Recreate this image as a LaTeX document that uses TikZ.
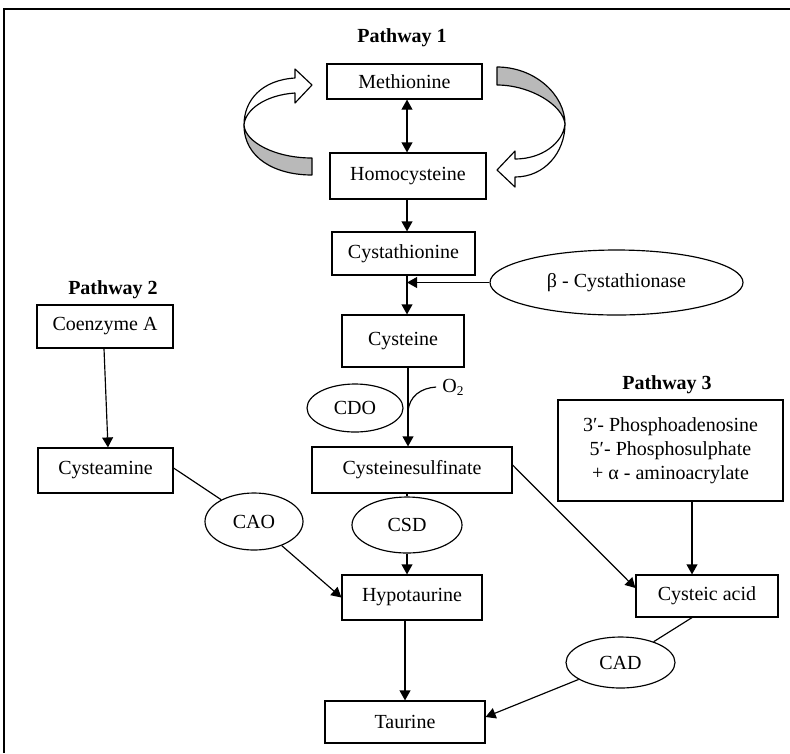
\documentclass[tikz,border=0pt]{standalone}
\usepackage{fontspec}
\setmainfont{Liberation Serif}
\usetikzlibrary{shapes.geometric,arrows.meta}
\begin{document}
\begin{tikzpicture}[x=0.6pt,y=-0.6pt,
  every node/.style={font=\fontsize{12}{14.5}\selectfont},
  box/.style={draw, line width=0.7pt, rectangle, inner sep=2pt, align=center},
  enz/.style={draw, line width=0.7pt, ellipse, inner sep=0pt},
  ptitle/.style={font=\fontsize{12}{14.5}\selectfont\bfseries, inner sep=1pt},
  conn/.style={line width=0.7pt},
  arr/.style={conn, -{Triangle[length=6pt,width=6.5pt]}},
  darr/.style={conn, {Triangle[length=6pt,width=6.5pt]}-{Triangle[length=6pt,width=6.5pt]}},
  ribbon/.style={draw, line width=0.7pt, line join=round},
  underside/.style={ribbon, fill=gray!55},
  topside/.style={ribbon, fill=white}
]
\useasboundingbox (0,0) rectangle (790,753);
% frame
\draw[line width=1pt] (790,9) -- (4,9) -- (4,753);

% titles
\node[ptitle] (p1) at (402,38) {Pathway 1};
\node[ptitle] (p2) at (113,290) {Pathway 2};
\node[ptitle] (p3) at (667,385) {Pathway 3};

% boxes
\node[box, minimum width=93pt, minimum height=21pt] (met) at (404.5,81.5) {Methionine};
\node[box, minimum width=93.6pt, minimum height=27.6pt] (hcy) at (408,176) {Homocysteine};
\node[box, minimum width=85.8pt, minimum height=25.8pt] (cysta) at (403.5,253.5) {Cystathionine};
\node[box, minimum width=73.2pt, minimum height=31.2pt] (cys) at (403,341) {Cysteine};
\node[box, minimum width=120pt, minimum height=27.6pt] (csa) at (412,470) {Cysteinesulfinate};
\node[box, minimum width=84pt, minimum height=27pt] (hypo) at (412,597.5) {Hypotaurine};
\node[box, minimum width=96pt, minimum height=25.2pt] (tau) at (405,722) {Taurine};
\node[box, minimum width=81.6pt, minimum height=25.8pt] (coa) at (105,326.5) {Coenzyme A};
\node[box, minimum width=81pt, minimum height=27pt] (cyst) at (105.5,470.5) {Cysteamine};
\node[box, minimum width=135pt, minimum height=60.6pt] (paps) at (670.5,450.5)
  {3′- Phosphoadenosine\\5′- Phosphosulphate\\+ α - aminoacrylate};
\node[box, minimum width=85.2pt, minimum height=25.2pt] (cya) at (707,596) {Cysteic acid};

% enzymes
\node[enz, minimum width=151.8pt, minimum height=39pt] (cgl) at (616.5,282.5) {β - Cystathionase};
\node[enz, minimum width=57.6pt, minimum height=28.8pt] (cdo) at (355,408) {CDO};
\node[enz, minimum width=58.8pt, minimum height=34.2pt] (cao) at (254,521.5) {CAO};
\node[enz, minimum width=66pt, minimum height=33.6pt] (csd) at (407,525) {CSD};
\node[enz, minimum width=65.4pt, minimum height=30.6pt] (cad) at (620.5,662.5) {CAD};
\node[inner sep=0pt, anchor=west] (o2) at (442,387) {O\textsubscript{2}};

% helper coordinates
\coordinate (spine) at (407,0);
\coordinate (spineb) at (408,0);
\coordinate (p3x) at (692,0);
\coordinate (o2end) at (408,412);

% main pathway
\draw[darr] (met.south -| spine) -- (hcy.north -| spine);
\draw[arr] (hcy.south -| spine) -- (cysta.north -| spine);
\draw[arr] (cysta.south -| spine) -- (cys.north -| spine);
\draw[arr] (cgl.west) -- (cgl.west -| spine);
\draw[arr] (cys.south -| spineb) -- (csa.north -| spineb);
\draw[conn] ([xshift=-3.5pt]o2.west) .. controls (421,388) and (409,396) .. (o2end);
\draw[conn] (csa.south -| spine) -- (csd.north);
\draw[arr] (csd.south) -- (hypo.north -| csd.south);
\draw[arr] (hypo.south -| tau.north) -- (tau.north);

% pathway 2
\draw[arr] ([xshift=-0.6pt]coa.south) -- ([xshift=1.5pt]cyst.north);
\draw[conn] ([yshift=1.5pt]cyst.east) -- (cao);
\draw[arr] (cao) -- (hypo.west);

% pathway 3
\draw[arr] ([yshift=3pt]csa.east) -- ([yshift=4.8pt]cya.west);
\draw[arr] (paps.south -| p3x) -- (cya.north -| p3x);
\draw[conn] (cya.south -| p3x) -- (cad);
\draw[arr] (cad) -- ([yshift=3pt]tau.east);

% left ribbon arrow (to Methionine)
\draw[topside] (295,78) .. controls (262,80) and (244,100) .. (244,125)
  .. controls (245,110) and (265,95) .. (295,93) -- (295,103) -- (312,85) -- (295,69) -- cycle;
\draw[underside] (244,125) .. controls (244,158) and (275,175) .. (312,175)
  -- (312,158) .. controls (275,158) and (245,142) .. (244,125) -- cycle;

% right ribbon arrow (to Homocysteine)
\draw[underside] (497,67) .. controls (535,67) and (565,95) .. (565,124)
  .. controls (563,105) and (530,85) .. (497,85) -- cycle;
\draw[topside] (565,124) .. controls (565,152) and (545,177) .. (515,177)
  -- (515,187) -- (497,170) -- (515,151) -- (515,159)
  .. controls (542,159) and (563,143) .. (565,124) -- cycle;
\end{tikzpicture}
\end{document}
